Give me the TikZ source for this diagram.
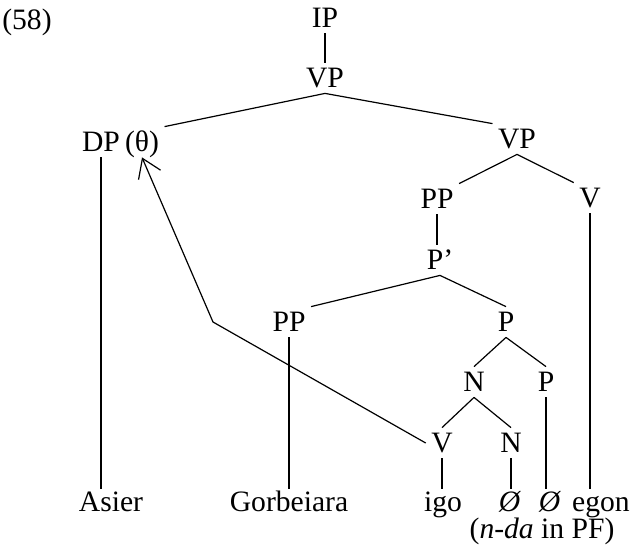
\documentclass[tikz,border=0pt]{standalone}
\usepackage{fontspec}
\setmainfont{Liberation Serif}
\usetikzlibrary{arrows.meta}

\begin{document}
\begin{tikzpicture}[x=0.5pt, y=-0.5pt, line width=0.6pt,
  every node/.style={inner sep=2.5pt, text height=9.8pt, text depth=0pt, font=\fontsize{14.8}{17}\selectfont},
  word/.style={text depth=3pt, inner sep=1.5pt},
  move/.style={-{Straight Barb[length=9pt, width=12pt, line width=0.6pt]}}]
  \useasboundingbox (0,0) rectangle (630,548);
  \node (ex) at (27,20) {(58)};

  % upper part of the tree
  \node (IP) at (325,18) {IP};
  \node (VP1) at (325,78) {VP};
  \node (DP) at (101,142) {DP};
  \node (theta) at (142,142) {(θ)};
  \node (VP2) at (517,139) {VP};
  \node (PP1) at (437,199) {PP};
  \node (V1) at (590,198) {V};
  \node (Pbar) at (440,260) {P’};
  \node (PP2) at (289,322) {PP};
  \node (P1) at (506,322) {P};
  \node (N1) at (474,382) {N};
  \node (P2) at (546,382) {P};
  \node (V2) at (442,443) {V};
  \node (N2) at (511,443) {N};

  % words
  \node[word] (Asier) at (111,505) {Asier};
  \node[word] (Gorb) at (289,505) {Gorbeiara};
  \node[word] (igo) at (443,505) {igo};
  \node[word] (null1) at (510,505) {\textit{Ø}};
  \node[word] (null2) at (550,505) {\textit{Ø}};
  \node[word] (egon) at (601,505) {egon};
  \node[word] (pf) at (542,532) {(\textit{n-da} in PF)};

  \draw (IP) -- (VP1);
  \draw (VP1.south) -- (theta.north east);
  \draw (VP1.south) -- (VP2.north west);
  \draw (VP2.south) -- (PP1.north east);
  \draw (VP2.south) -- (V1.north west);
  \draw (PP1.south) -- (PP1.south |- Pbar.north);
  \draw (Pbar.south) -- (PP2.north east);
  \draw (Pbar.south) -- (P1.north);
  \draw (P1.south) -- (N1.north);
  \draw (P1.south) -- (P2.north);
  \draw (N1.south) -- (V2.north);
  \draw (N1.south) -- (N2.north);

  % lines down to the words
  \draw (DP.south) -- (DP.south |- Asier.north);
  \draw (PP2.south) -- (PP2.south |- Gorb.north);
  \draw (V2.south) -- (V2.south |- igo.north);
  \draw (N2.south) -- (N2.south |- null1.north);
  \draw (P2.south) -- (P2.south |- null2.north);
  \draw (V1.south) -- (V1.south |- egon.north);

  % movement
  \coordinate (bend) at (213,322);
  \draw[move] (V2.west) -- (bend) -- (theta.south);
\end{tikzpicture}
\end{document}
